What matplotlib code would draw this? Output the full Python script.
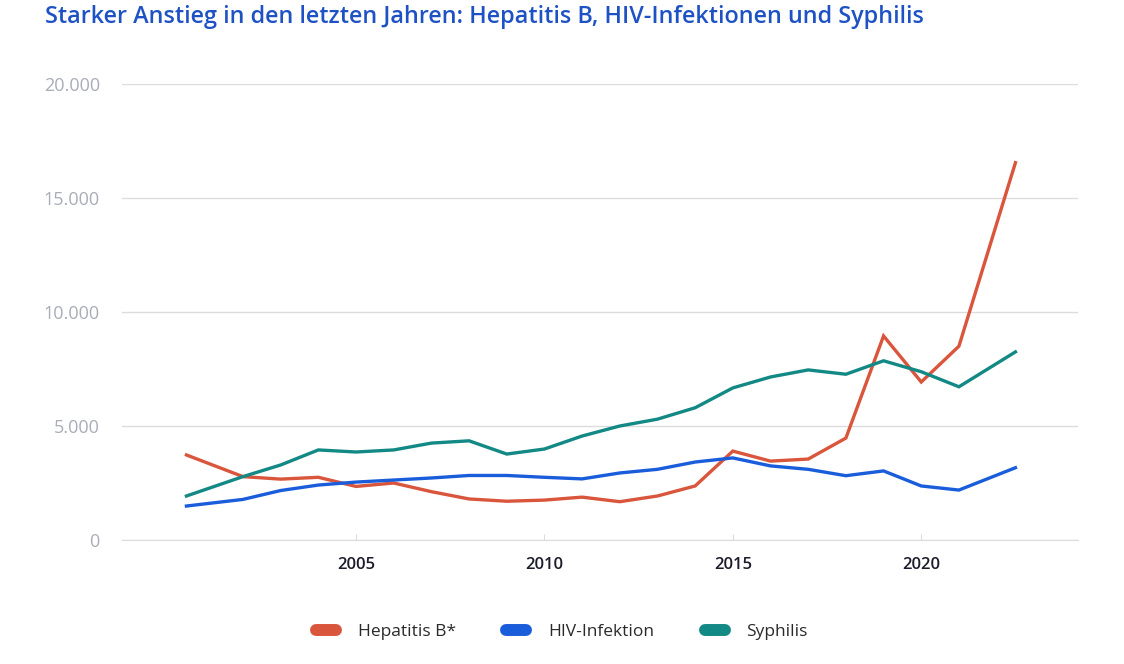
import numpy as np
import matplotlib.pyplot as plt
from matplotlib.lines import Line2D
from matplotlib.ticker import FuncFormatter

plt.rcParams['font.family'] = ['Open Sans', 'DejaVu Sans']

# Jahre 2001-2022; erster und letzter Punkt liegen im Original halb versetzt
jahre = [2001, 2002, 2003, 2004, 2005, 2006, 2007, 2008, 2009, 2010, 2011,
         2012, 2013, 2014, 2015, 2016, 2017, 2018, 2019, 2020, 2021, 2022]
x_pos = [2000.5] + jahre[1:-1] + [2022.5]

hepatitis_b = [3730, 2780, 2670, 2750, 2350, 2500, 2120, 1800, 1700, 1750, 1880,
               1680, 1930, 2370, 3900, 3460, 3550, 4470, 8950, 6930, 8500, 16550]
hiv = [1490, 1780, 2170, 2410, 2540, 2630, 2720, 2830, 2830, 2750, 2680,
       2940, 3100, 3420, 3600, 3250, 3100, 2820, 3030, 2370, 2190, 3170]
syphilis = [1930, 2780, 3290, 3950, 3860, 3950, 4250, 4350, 3770, 3990, 4560,
            5000, 5300, 5800, 6670, 7150, 7460, 7270, 7860, 7380, 6720, 8250]

serien = [
    ("Hepatitis B*", hepatitis_b, "#d9553b"),
    ("HIV-Infektion", hiv, "#1a5ddb"),
    ("Syphilis", syphilis, "#138985"),
]

fig = plt.figure(figsize=(11.24, 6.64), dpi=100)
ax = fig.add_axes([122 / 1124, 1 - 540 / 664, (1078 - 122) / 1124, (540 - 84) / 664])

for name, werte, farbe in serien:
    ax.plot(x_pos, werte, color=farbe, lw=2.4, solid_joinstyle='miter', label=name)

ax.set_xlim(1998.79, 2024.16)
ax.set_ylim(0, 20000)
ax.set_yticks([0, 5000, 10000, 15000, 20000])
ax.yaxis.set_major_formatter(FuncFormatter(lambda v, p: f"{int(v):,}".replace(",", ".")))
ax.set_xticks([2005, 2010, 2015, 2020])

ax.grid(axis='y', color='#dcdcdc', lw=1)
ax.set_axisbelow(True)
for s in ['top', 'right', 'left']:
    ax.spines[s].set_visible(False)
ax.spines['bottom'].set_color('#dcdcdc')
ax.tick_params(axis='y', length=0, pad=16, labelsize=13, labelcolor='#a9adb8')
ax.tick_params(axis='x', length=4, direction='in', color='#dcdcdc', pad=12,
               labelsize=12, labelcolor='#1c1c2c')
for lab in ax.get_xticklabels():
    lab.set_fontweight('semibold')

fig.text(45 / 1124, 1 - 17 / 664, "Starker Anstieg in den letzten Jahren: Hepatitis B, HIV-Infektionen und Syphilis",
         fontsize=16.8, fontweight='semibold', color='#1e52c4', va='center', ha='left')

handles = [Line2D([0], [0], color=f, lw=8.6, solid_capstyle='round') for _, _, f in serien]
fig.legend(handles, [n for n, _, _ in serien], loc='center', bbox_to_anchor=(0.5, 1 - 632 / 664),
           ncol=3, frameon=False, fontsize=12.5, handlelength=1.15, handletextpad=1.26,
           columnspacing=2.9, labelcolor='#2a2a2a')

fig.savefig("out.png", dpi=100)
